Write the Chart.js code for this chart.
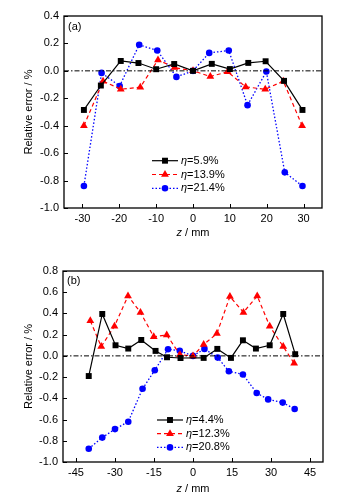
<!DOCTYPE html>
<html>
<head>
<meta charset="utf-8">
<script src="https://cdn.jsdelivr.net/npm/chart.js@4.4.1/dist/chart.umd.min.js"></script>
<style>
html, body { margin: 0; padding: 0; background: #fff; }
#wrap { position: relative; width: 345px; height: 503px; }
.box { position: absolute; left: 0; width: 345px; }
</style>
</head>
<body>
<div id="wrap">
  <div class="box" style="top:0;height:250px"><canvas id="chartA"></canvas></div>
  <div class="box" style="top:250px;height:253px"><canvas id="chartB"></canvas></div>
</div>
<script>
// ---- panel (a) ----
var zA1 = [-29.6, -25, -19.6, -14.8, -10, -5.1, 0, 5.1, 10, 15, 19.7, 24.7, 29.7];
var errA1 = [-0.285, -0.107, 0.072, 0.057, 0.012, 0.05, 0, 0.051, 0.013, 0.058, 0.07, -0.073, -0.285];
var zA2 = [-29.6, -24.4, -19.6, -14.3, -9.5, -5, 0, 4.7, 9.4, 14.3, 19.6, 24.5, 29.6];
var errA2 = [-0.40, -0.075, -0.134, -0.119, 0.08, 0.024, 0, -0.041, -0.007, -0.117, -0.134, -0.075, -0.40];
var zA3 = [-29.6, -24.8, -19.9, -14.6, -9.7, -4.5, 0, 4.4, 9.7, 14.8, 19.9, 24.9, 29.7];
var errA3 = [-0.84, -0.015, -0.11, 0.19, 0.148, -0.044, 0, 0.131, 0.148, -0.25, -0.005, -0.74, -0.84];
var etaA = ['5.9%', '13.9%', '21.4%'];
var xTicksA = [-30, -20, -10, 0, 10, 20, 30];
var yTicksA = [-1.0, -0.8, -0.6, -0.4, -0.2, 0, 0.2, 0.4];

// ---- panel (b) ----
var zB1 = [-40.1, -34.9, -29.8, -24.9, -19.9, -14.4, -10, -4.8, 4.1, 9.35, 14.6, 19.2, 24.2, 29.5, 34.7, 39.3];
var errB1 = [-0.19, 0.395, 0.10, 0.069, 0.15, 0.047, -0.013, -0.02, -0.019, 0.066, -0.019, 0.147, 0.069, 0.10, 0.395, 0.016];
var zB2 = [-39.5, -35.3, -30.2, -25, -20.2, -15.1, -10.1, -5, 0, 4.1, 9.2, 14.2, 19.4, 24.7, 29.5, 34.7, 38.9];
var errB2 = [0.33, 0.088, 0.28, 0.565, 0.41, 0.18, 0.198, 0.01, 0, 0.107, 0.21, 0.56, 0.41, 0.565, 0.28, 0.088, -0.07];
var zB3 = [-40.1, -34.9, -30, -24.9, -19.4, -14.7, -9.6, -5.1, 0, 4.4, 9.5, 13.8, 19.2, 24.5, 28.9, 34.5, 39.1];
var errB3 = [-0.875, -0.77, -0.69, -0.62, -0.31, -0.135, 0.063, 0.048, 0, 0.066, -0.016, -0.145, -0.175, -0.35, -0.41, -0.44, -0.50];
var etaB = ['4.4%', '12.3%', '20.8%'];
var xTicksB = [-45, -30, -15, 0, 15, 30, 45];
var yTicksB = [-1.0, -0.8, -0.6, -0.4, -0.2, 0, 0.2, 0.4, 0.6, 0.8];

var FONT = '"Liberation Sans", Arial, sans-serif';

function pts(xs, ys) {
    return xs.map(function (x, i) { return { x: x, y: ys[i] }; });
}

function makeSets(s1, s2, s3, names) {
    return [{
        label: names[0],
        data: s1,
        borderColor: '#000',
        backgroundColor: '#000',
        borderWidth: 1.2,
        pointStyle: 'rect',
        pointRadius: 4.2,
        pointBorderWidth: 0
    }, {
        label: names[1],
        data: s2,
        borderColor: '#ff0000',
        backgroundColor: '#ff0000',
        borderWidth: 1.2,
        borderDash: [4, 3],
        pointStyle: 'triangle',
        pointRadius: 4.5,
        pointBorderWidth: 0
    }, {
        label: names[2],
        data: s3,
        borderColor: '#0000ff',
        backgroundColor: '#0000ff',
        borderWidth: 1.3,
        borderDash: [1.5, 2],
        pointStyle: 'circle',
        pointRadius: 3.3,
        pointBorderWidth: 0
    }];
}

// frame, inward ticks, zero line, titles and legend
var decor = {
    id: 'decor',
    afterDatasetsDraw: function (chart, args, o) {
        var ctx = chart.ctx, a = chart.chartArea;
        var xs = chart.scales.x, ys = chart.scales.y;
        ctx.save();
        // zero line
        var y0 = ys.getPixelForValue(0);
        ctx.strokeStyle = '#000';
        ctx.lineWidth = 1;
        ctx.setLineDash([5, 2, 1.5, 2]);
        ctx.beginPath();
        ctx.moveTo(a.left, y0);
        ctx.lineTo(a.right, y0);
        ctx.stroke();
        ctx.setLineDash([]);
        // frame
        ctx.lineWidth = 1.3;
        ctx.strokeRect(a.left, a.top, a.right - a.left, a.bottom - a.top);
        // ticks
        ctx.lineWidth = 1;
        ctx.beginPath();
        xs.ticks.forEach(function (t) {
            var px = Math.round(xs.getPixelForValue(t.value)) + 0.5;
            ctx.moveTo(px, a.bottom);
            ctx.lineTo(px, a.bottom - 4);
        });
        ys.ticks.forEach(function (t) {
            var py = Math.round(ys.getPixelForValue(t.value)) + 0.5;
            ctx.moveTo(a.left, py);
            ctx.lineTo(a.left + 4, py);
        });
        ctx.stroke();

        ctx.fillStyle = '#000';
        ctx.textBaseline = 'middle';
        // panel tag
        ctx.font = '11px ' + FONT;
        ctx.textAlign = 'left';
        ctx.fillText(o.tag, o.tagX, o.tagY);

        // y title
        ctx.save();
        ctx.translate(o.yTitleX, (a.top + a.bottom) / 2);
        ctx.rotate(-Math.PI / 2);
        ctx.textAlign = 'center';
        ctx.fillText('Relative error / %', 0, 0);
        ctx.restore();

        // x title: italic z
        ctx.font = 'italic 11px ' + FONT;
        var w1 = ctx.measureText('z').width;
        ctx.font = '11px ' + FONT;
        var w2 = ctx.measureText(' / mm').width;
        var sx = o.xTitleX - (w1 + w2) / 2;
        ctx.font = 'italic 11px ' + FONT;
        ctx.fillText('z', sx, o.xTitleY);
        ctx.font = '11px ' + FONT;
        ctx.fillText(' / mm', sx + w1, o.xTitleY);

        // legend
        chart.data.datasets.forEach(function (ds, i) {
            var ly = o.legY + i * o.legStep;
            ctx.strokeStyle = ds.borderColor;
            ctx.lineWidth = ds.borderWidth;
            ctx.setLineDash(ds.borderDash || []);
            ctx.beginPath();
            ctx.moveTo(o.legX, ly);
            ctx.lineTo(o.legX + o.legLen, ly);
            ctx.stroke();
            ctx.setLineDash([]);
            ctx.fillStyle = ds.backgroundColor;
            Chart.helpers.drawPoint(ctx, {
                pointStyle: ds.pointStyle, radius: ds.pointRadius, rotation: 0, borderWidth: 0
            }, o.legX + o.legLen / 2, ly);
            ctx.fillStyle = '#000';
            var tx = o.legX + o.legLen + 3;
            ctx.font = 'italic 11px ' + FONT;
            ctx.fillText('\u03b7', tx, ly);
            var we = ctx.measureText('\u03b7').width;
            ctx.font = '11px ' + FONT;
            ctx.fillText('=' + ds.label, tx + we, ly);
        });
        ctx.restore();
    }
};

function makeChart(id, sets, xr, xTicks, yr, yTicks, lay, deco) {
    return new Chart(document.getElementById(id), {
        type: 'scatter',
        data: { datasets: sets },
        options: {
            responsive: true,
            maintainAspectRatio: false,
            animation: false,
            showLine: true,
            layout: { padding: { left: 0, right: lay.right, top: lay.top, bottom: 0 } },
            scales: {
                x: {
                    type: 'linear',
                    min: xr[0],
                    max: xr[1],
                    grid: { display: false, drawTicks: false, tickLength: 0 },
                    border: { display: false },
                    afterBuildTicks: function (s) {
                        s.ticks = xTicks.map(function (v) { return { value: v }; });
                    },
                    afterFit: function (s) { s.height = lay.xh; },
                    ticks: {
                        color: '#000',
                        padding: 4,
                        font: { family: FONT, size: 11 },
                        maxRotation: 0,
                        callback: function (v) { return String(v); }
                    }
                },
                y: {
                    type: 'linear',
                    min: yr[0],
                    max: yr[1],
                    grid: { display: false, drawTicks: false, tickLength: 0 },
                    border: { display: false },
                    afterBuildTicks: function (s) {
                        s.ticks = yTicks.map(function (v) { return { value: v }; });
                    },
                    afterFit: function (s) { s.width = lay.yw; },
                    ticks: {
                        color: '#000',
                        padding: 5,
                        font: { family: FONT, size: 11 },
                        callback: function (v) { return Math.abs(v) < 1e-9 ? '0.0' : v.toFixed(1); }
                    }
                }
            },
            plugins: {
                legend: { display: false },
                tooltip: { enabled: false },
                decor: deco
            }
        },
        plugins: [decor]
    });
}

makeChart('chartA',
    makeSets(pts(zA1, errA1), pts(zA2, errA2), pts(zA3, errA3), etaA),
    [-35, 35], xTicksA, [-1.0, 0.4], yTicksA,
    { right: 23, top: 16, xh: 42, yw: 64 },
    { tag: '(a)', tagX: 68, tagY: 26.5, yTitleX: 29, xTitleX: 193, xTitleY: 233,
      legX: 152, legY: 160.7, legStep: 13.8, legLen: 26 });

makeChart('chartB',
    makeSets(pts(zB1, errB1), pts(zB2, errB2), pts(zB3, errB3), etaB),
    [-50, 50], xTicksB, [-1.0, 0.8], yTicksB,
    { right: 22, top: 21, xh: 41, yw: 63 },
    { tag: '(b)', tagX: 67, tagY: 30.5, yTitleX: 29, xTitleX: 193, xTitleY: 239,
      legX: 157, legY: 170, legStep: 13.7, legLen: 26 });
</script>
</body>
</html>
